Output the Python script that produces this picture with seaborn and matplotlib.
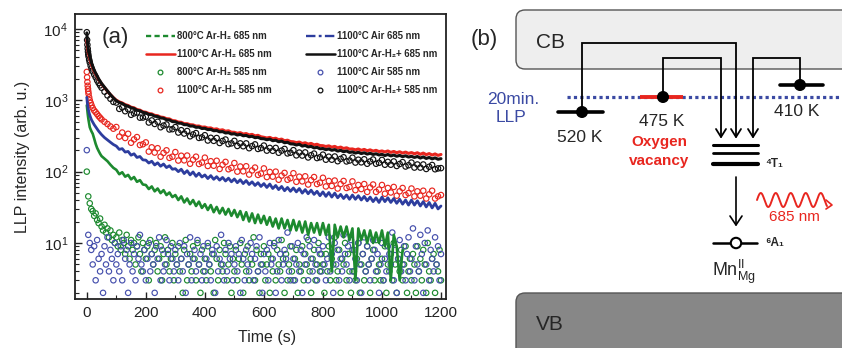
import numpy as np
import pandas as pd
import matplotlib
matplotlib.use("Agg")
import matplotlib.pyplot as plt
import seaborn as sns
from matplotlib.lines import Line2D
from matplotlib.patches import FancyBboxPatch, Circle
from matplotlib.ticker import MultipleLocator, LogLocator, NullFormatter

# ---------------- data ----------------
T_EARLY = [0, 1, 2, 3, 4, 5, 6, 8, 10, 13, 16, 20, 25, 30, 35, 40, 45, 50, 60, 70, 80, 90]
TIME = T_EARLY + list(range(100, 1201, 10))
TIME_NOISE = list(range(0, 1201, 5))

# 1100C Ar-H2+ 685 nm (black line)
BLACK_685 = [8800, 7600, 6700, 6000, 5500, 5100, 4800, 4400, 4100, 3700, 3350, 3000, 2650, 2400, 2200, 2000, 1850, 1720, 1520, 1350, 1200, 1080,
             985, 930, 902, 850, 826, 785, 768, 725, 712, 676,
             665, 634, 628, 598, 592, 565, 560, 533, 530, 503,
             500, 478, 476, 455, 455, 435, 436, 418, 420, 402,
             405, 388, 391, 374, 377, 361, 364, 348, 352, 336,
             340, 326, 333, 318, 322, 308, 313, 299, 303, 290,
             289, 280, 286, 271, 276, 262, 268, 254, 258, 245,
             244, 236, 242, 228, 233, 222, 226, 215, 219, 209,
             211, 203, 208, 199, 204, 194, 199, 190, 195, 186,
             189, 182, 187, 179, 184, 176, 181, 174, 178, 171,
             175, 168, 174, 166, 171, 164, 169, 162, 167, 160,
             164, 158, 163, 155, 161, 153, 158, 151, 156, 149,
             152]
# 1100C Ar-H2+ 585 nm (black circles)
BLACK_585 = [9000, 7000, 6000, 5300, 4800, 4400, 4100, 3700, 3400, 3050, 2800, 2550, 2300, 2100, 1900, 1750, 1620, 1500, 1320, 1170, 1050, 950,
             929, 758, 798, 703, 750, 626, 655, 674, 571, 573,
             589, 488, 522, 466, 500, 419, 442, 458, 390, 394,
             421, 353, 381, 342, 371, 313, 332, 347, 297, 302,
             324, 273, 298, 270, 296, 252, 269, 282, 243, 249,
             270, 229, 249, 227, 249, 213, 228, 241, 208, 214,
             232, 197, 215, 196, 215, 184, 197, 208, 180, 184,
             200, 169, 185, 168, 186, 158, 170, 179, 155, 159,
             173, 147, 162, 147, 163, 140, 151, 159, 139, 143,
             157, 134, 147, 135, 149, 129, 139, 148, 129, 133,
             146, 125, 137, 125, 139, 120, 128, 136, 118, 123,
             134, 114, 126, 114, 126, 109, 117, 124, 108, 111,
             112]
# 1100C Ar-H2 685 nm (red line)
RED_685 = [7000, 6300, 5700, 5300, 4900, 4600, 4400, 4100, 3800, 3450, 3150, 2850, 2550, 2320, 2130, 1960, 1820, 1700, 1500, 1340, 1200, 1090,
           1000, 950, 918, 870, 845, 800, 785, 742, 728, 690,
           680, 652, 645, 615, 608, 582, 575, 552, 548, 520,
           515, 495, 492, 470, 470, 455, 452, 435, 436, 420,
           422, 408, 410, 392, 398, 380, 386, 368, 374, 357,
           356, 345, 352, 336, 342, 327, 333, 317, 323, 308,
           303, 296, 302, 289, 294, 280, 286, 271, 276, 264,
           262, 255, 260, 248, 254, 243, 249, 237, 242, 232,
           231, 225, 230, 220, 226, 215, 221, 211, 216, 207,
           208, 202, 208, 199, 205, 196, 202, 194, 199, 191,
           195, 189, 195, 186, 192, 184, 190, 182, 188, 180,
           185, 178, 184, 175, 182, 173, 179, 171, 177, 169,
           174]
# 1100C Ar-H2 585 nm (red circles)
RED_585 = [2500, 2100, 1800, 1600, 1450, 1330, 1230, 1100, 1000, 920, 850, 780, 720, 680, 640, 600, 570, 540, 500, 465, 430, 400,
           422, 310, 353, 296, 339, 254, 283, 305, 236, 242,
           257, 191, 219, 185, 213, 162, 183, 199, 156, 162,
           188, 143, 167, 144, 168, 129, 147, 162, 128, 134,
           157, 120, 140, 121, 142, 109, 125, 137, 108, 113,
           132, 100, 118, 101, 119, 91, 104, 114, 90, 94,
           111, 84, 99, 85, 100, 77, 88, 96, 77, 81,
           95, 72, 85, 73, 86, 66, 76, 84, 67, 70,
           82, 62, 74, 63, 75, 58, 67, 74, 59, 61,
           73, 55, 65, 57, 67, 52, 60, 66, 52, 56,
           65, 49, 59, 51, 61, 46, 53, 59, 47, 50,
           58, 45, 53, 46, 54, 42, 48, 54, 42, 45,
           47]
# 1100C Air 685 nm (blue dash-dot line)
BLUE_685 = [1100, 980, 900, 840, 790, 750, 715, 660, 620, 570, 530, 495, 455, 425, 395, 370, 350, 330, 300, 278, 258, 240,
            228, 205, 210, 188, 192, 170, 178, 158, 163, 146,
            145, 132, 140, 124, 133, 119, 128, 114, 121, 108,
            110, 100, 108, 94, 103, 90, 99, 86, 95, 84,
            90, 80, 88, 78, 85, 76, 83, 74, 81, 72,
            79, 70, 77, 68, 75, 66, 72, 64, 70, 62,
            68, 60, 67, 58, 64, 56, 62, 54, 60, 53,
            59, 52, 58, 50, 56, 49, 55, 48, 53, 46,
            52, 45, 51, 44, 50, 43, 48, 42, 47, 41,
            47, 41, 46, 40, 45, 39, 44, 38, 43, 37,
            44, 38, 43, 37, 42, 36, 41, 35, 40, 34,
            40, 34, 39, 33, 38, 32, 37, 31, 36, 30,
            33]
# 800C Ar-H2 685 nm (green dashed line, ends near 1070 s)
GREEN_685 = [850, 780, 710, 650, 600, 560, 525, 470, 420, 390, 365, 340, 290, 245, 215, 195, 178, 165, 152, 140, 125, 113,
             106, 92, 98, 85, 90, 78, 84, 72, 76, 66,
             65, 57, 62, 53, 58, 50, 55, 47, 51, 44,
             47, 40, 45, 37, 42, 35, 40, 33, 38, 31,
             35, 29, 34, 27, 32, 26, 31, 25, 30, 24,
             29, 23, 28, 21, 27, 20, 26, 19, 25, 19,
             24, 18, 23, 17, 22, 16, 22, 16, 21, 15,
             21, 15, 20, 14, 20, 13, 19, 14, 19, 13,
             19, 13, 18, 4, 18, 12, 17, 12, 17, 11,
             16, 3, 16, 11, 15, 10, 15, 10, 14, 10,
             15, 9, 14, 3, 13, 9, 3, 8]
# 1100C Air 585 nm (blue circles, counting noise)
BLUE_585 = [200, 13, 10, 8, 5, 9, 3, 11, 6, 4, 7, 2, 9, 5, 12, 4, 8, 6, 3, 10,
            5, 7, 4, 9, 3, 11, 6, 8, 2, 5, 10, 4, 7, 3, 9, 6, 13, 5, 4, 8,
            3, 6, 10, 4, 7, 5, 2, 9, 6, 12, 3, 8, 4, 5, 11, 7, 3, 9, 6, 4,
            8, 5, 3, 10, 6, 4, 9, 2, 7, 5, 12, 3, 6, 8, 4, 11, 5, 7, 3, 9,
            4, 6, 10, 5, 3, 8, 7, 2, 9, 4, 6, 13, 5, 3, 8, 4, 10, 6, 7, 3,
            5, 9, 4, 7, 2, 11, 6, 3, 8, 5, 4, 10, 7, 3, 6, 9, 4, 12, 5, 2,
            7, 4, 8, 3, 10, 5, 6, 9, 2, 4, 11, 7, 3, 5, 8, 6, 14, 4, 3, 9,
            6, 3, 5, 10, 4, 8, 2, 7, 5, 12, 3, 9, 6, 4, 11, 5, 3, 8, 7, 4,
            9, 5, 3, 6, 12, 4, 7, 2, 10, 5, 8, 3, 6, 4, 13, 7, 5, 9, 3, 11,
            4, 8, 6, 3, 10, 5, 2, 7, 12, 4, 9, 5, 3, 6, 11, 8, 4, 7, 2, 5,
            10, 3, 6, 4, 9, 7, 5, 14, 3, 8, 2, 6, 11, 4, 5, 9, 3, 7, 12, 4,
            6, 16, 3, 9, 5, 4, 13, 7, 2, 10, 5, 15, 3, 8, 6, 4, 12, 5, 9, 3,
            7]
# 800C Ar-H2 585 nm (green circles)
GREEN_585 = [100, 45, 36, 30, 28, 24, 26, 21, 19, 22, 17, 15, 18, 14, 16, 12, 15, 11, 13, 10,
             12, 9, 14, 8, 11, 10, 7, 13, 9, 6, 11, 8, 10, 5, 9, 12, 7, 4, 10, 8,
             6, 9, 3, 11, 7, 5, 8, 10, 4, 6, 9, 3, 7, 12, 5, 8, 4, 6, 10, 3,
             7, 5, 9, 4, 6, 2, 8, 11, 3, 5, 7, 4, 9, 6, 3, 10, 5, 2, 8, 4,
             6, 3, 9, 5, 4, 7, 2, 11, 6, 3, 8, 5, 4, 10, 7, 3, 5, 9, 2, 6,
             4, 8, 3, 6, 10, 5, 2, 7, 4, 9, 3, 6, 5, 12, 3, 8, 4, 2, 7, 5,
             9, 3, 5, 7, 2, 6, 4, 10, 3, 8, 5, 4, 11, 6, 2, 7, 3, 5, 9, 4,
             3, 6, 8, 2, 5, 4, 9, 3, 7, 5, 11, 4, 2, 6, 8, 3, 5, 10, 4, 7,
             5, 2, 7, 4, 9, 3, 6, 5, 12, 3, 4, 8, 2, 6, 5, 10, 3, 7, 4, 2,
             8, 4, 3, 6, 10, 2, 5, 7, 3, 4, 9, 5, 2, 6, 8, 3, 11, 4, 5, 3,
             6, 3, 9, 2, 5, 4, 7, 3, 10, 5, 2, 6, 4, 8, 3, 5, 9, 2, 4, 6,
             3, 7, 5, 2, 9, 4, 6, 3, 8, 5, 2, 10, 4, 3, 6, 7, 2, 5, 4, 8,
             3]

LABELS = ["800°C Ar-H₂ 685 nm", "1100°C Ar-H₂ 685 nm", "800°C Ar-H₂ 585 nm", "1100°C Ar-H₂ 585 nm",
          "1100°C Air 685 nm", "1100°C Ar-H₂+ 685 nm", "1100°C Air 585 nm", "1100°C Ar-H₂+ 585 nm"]
XTICKS = [0, 200, 400, 600, 800, 1000, 1200]

for name, arr, tt in [("BLACK_685", BLACK_685, TIME), ("BLACK_585", BLACK_585, TIME), ("RED_685", RED_685, TIME),
                      ("RED_585", RED_585, TIME), ("BLUE_685", BLUE_685, TIME), ("BLUE_585", BLUE_585, TIME_NOISE),
                      ("GREEN_585", GREEN_585, TIME_NOISE)]:
    assert len(arr) == len(tt), (name, len(arr), len(tt))

# ---------------- styling ----------------
sns.set_theme(style="ticks")
FONTS = ["Liberation Sans", "DejaVu Sans"]
plt.rcParams["font.family"] = FONTS
plt.rcParams["mathtext.fontset"] = "custom"
plt.rcParams["mathtext.rm"] = "Liberation Sans"
plt.rcParams["mathtext.it"] = "Liberation Sans:italic"
plt.rcParams["mathtext.bf"] = "Liberation Sans:bold"

GREEN = "#1d8a2f"
RED = "#e8261f"
BLUE = "#2d3d9e"
BLUE_C = "#4650ad"
BLACK = "#111111"
W, H = 842, 348

fig = plt.figure(figsize=(W / 100, H / 100), dpi=100)
ax = fig.add_axes([75 / W, 1 - 299 / H, 371 / W, 285 / H])

sc_kw = dict(marker="o", s=15, facecolors="none", linewidth=0.85)
sns.scatterplot(x=TIME_NOISE, y=GREEN_585, ax=ax, color=GREEN, edgecolor=GREEN, zorder=2, **sc_kw)
sns.scatterplot(x=TIME_NOISE, y=BLUE_585, ax=ax, color=BLUE_C, edgecolor=BLUE_C, zorder=3, **sc_kw)
sns.lineplot(x=TIME[:len(GREEN_685)], y=GREEN_685, ax=ax, color=GREEN, lw=1.9, linestyle="-", zorder=4, errorbar=None)
sns.scatterplot(x=TIME, y=RED_585, ax=ax, color=RED, edgecolor=RED, zorder=4, **sc_kw)
sns.lineplot(x=TIME, y=BLUE_685, ax=ax, color=BLUE, lw=2.0, linestyle="-", zorder=5, errorbar=None)
sns.scatterplot(x=TIME, y=BLACK_585, ax=ax, color=BLACK, edgecolor=BLACK, zorder=5, **sc_kw)
sns.lineplot(x=TIME, y=RED_685, ax=ax, color=RED, lw=2.2, zorder=6, errorbar=None)
sns.lineplot(x=TIME, y=BLACK_685, ax=ax, color=BLACK, lw=2.2, zorder=7, errorbar=None)

ax.set_yscale("log")
ax.set_xlim(-40, 1217)
ax.set_ylim(1.64, 16200)
ax.set_xticks(XTICKS)
ax.set_xticklabels([str(v) for v in XTICKS])
ax.xaxis.set_minor_locator(MultipleLocator(100))
ax.yaxis.set_major_locator(LogLocator(base=10, numticks=10))
ax.yaxis.set_minor_locator(LogLocator(base=10, subs=np.arange(2, 10), numticks=20))
ax.yaxis.set_minor_formatter(NullFormatter())
ax.tick_params(which="both", direction="in", top=False, right=False, colors="#222222")
ax.tick_params(which="major", length=5, width=1.0, labelsize=11, pad=5)
ax.tick_params(which="minor", length=3, width=0.8)
for s in ax.spines.values():
    s.set_linewidth(1.3)
    s.set_color("#222222")
ax.set_xlabel("Time (s)", fontsize=11.5)
ax.set_ylabel("LLP intensity (arb. u.)", fontsize=11.5)
ax.xaxis.set_label_coords(0.517, -0.11)
ax.yaxis.set_label_coords(-0.12, 0.5)

handles = [
    Line2D([], [], color=GREEN, lw=1.7, linestyle=(0, (2.2, 1.4))),
    Line2D([], [], color=RED, lw=1.8),
    Line2D([], [], ls="none", marker="o", ms=3.4, mfc="none", mec=GREEN, mew=0.9),
    Line2D([], [], ls="none", marker="o", ms=3.4, mfc="none", mec=RED, mew=0.9),
    Line2D([], [], color=BLUE, lw=1.7, linestyle=(0, (4, 1.4, 1.2, 1.4))),
    Line2D([], [], color=BLACK, lw=1.8),
    Line2D([], [], ls="none", marker="o", ms=3.4, mfc="none", mec=BLUE_C, mew=0.9),
    Line2D([], [], ls="none", marker="o", ms=3.4, mfc="none", mec=BLACK, mew=0.9),
]
leg = ax.legend(handles, LABELS, ncol=2, loc="upper left", bbox_to_anchor=(146 / W, 1 - 31 / H),
                bbox_transform=fig.transFigure, frameon=False, prop=dict(family=FONTS, weight="bold", size=6.9),
                handlelength=3.0, handletextpad=0.2, columnspacing=3.6, labelspacing=0.85,
                borderpad=0, borderaxespad=0)
fig.text(115 / W, 1 - 38 / H, "(a)", fontsize=16, ha="center", va="center")

# ---------------- panel (b): energy-level scheme ----------------
bx = fig.add_axes([450 / W, 0, 392 / W, 1])
bx.set_xlim(450, 842)
bx.set_ylim(348, 0)
bx.axis("off")

bx.add_patch(FancyBboxPatch((516, 10), 380, 59, boxstyle="round,pad=0,rounding_size=9",
                            fc="#eeeeee", ec="#555555", lw=1.0))
bx.add_patch(FancyBboxPatch((516, 293), 380, 90, boxstyle="round,pad=0,rounding_size=9",
                            fc="#878787", ec="#555555", lw=1.0))
bx.text(484, 40, "(b)", fontsize=16, ha="center", va="center")
bx.text(536, 43, "CB", fontsize=15, ha="left", va="center")
bx.text(536, 325, "VB", fontsize=15, ha="left", va="center")

LLP_BLUE = "#3b4aa3"
bx.plot([567, 842], [97, 97], color=LLP_BLUE, lw=2.3, ls=(0, (1, 1.0)), zorder=2)
bx.text(513, 100, "20min.", fontsize=12.5, color=LLP_BLUE, ha="center", va="center")
bx.text(511, 118, "LLP", fontsize=12.5, color=LLP_BLUE, ha="center", va="center")

# trap levels
bx.plot([558, 603], [112, 112], color="black", lw=2.6, zorder=3)
bx.plot([640, 683], [97, 97], color=RED, lw=2.8, zorder=3, solid_capstyle="butt")
bx.plot([780, 823], [85, 85], color="black", lw=2.6, zorder=3)
for (cx, cy) in [(582, 112), (663, 97), (800, 85)]:
    bx.add_patch(Circle((cx, cy), 5.3, fc="black", ec="black", zorder=4))

# electron paths to 4T1
paths = [([582, 582, 736, 736], [112, 43, 43, 137]),
         ([663, 663, 721, 721], [97, 58, 58, 137]),
         ([800, 800, 753, 753], [85, 58, 58, 137])]
for xs, ys in paths:
    bx.plot(xs, ys, color="black", lw=1.3, zorder=3, solid_joinstyle="miter")
    tx = xs[-1]
    bx.plot([tx - 5, tx, tx + 5], [129, 137, 129], color="black", lw=1.3, zorder=3)

bx.text(580, 137, "520 K", fontsize=12.5, ha="center", va="center")
bx.text(662, 122, "475 K", fontsize=12.5, ha="center", va="center")
bx.text(797, 112, "410 K", fontsize=12.5, ha="center", va="center")
bx.text(659, 142, "Oxygen", fontsize=11, color=RED, weight="bold", ha="center", va="center")
bx.text(659, 161, "vacancy", fontsize=11, color=RED, weight="bold", ha="center", va="center")

# Mn levels
bx.plot([713, 758], [144.5, 144.5], color="black", lw=2.2)
bx.plot([713, 758], [152.5, 152.5], color="black", lw=2.0)
bx.plot([713, 758], [164, 164], color="black", lw=3.0)
bx.text(765, 164, "⁴T₁", fontsize=8.5, weight="bold", ha="left", va="center", family=FONTS)
bx.plot([736, 736], [177, 225], color="black", lw=1.2)
bx.plot([730, 736, 742], [216, 225, 216], color="black", lw=1.2)
bx.plot([713, 757], [243, 243], color="black", lw=1.8, zorder=3)
bx.add_patch(Circle((736, 243), 5.2, fc="white", ec="black", lw=1.5, zorder=4))
bx.text(765, 243, "⁶A₁", fontsize=8.5, weight="bold", ha="left", va="center", family=FONTS)
bx.text(712, 272, r"Mn$^{\rm II}_{\rm Mg}$", fontsize=13, ha="left", va="center")

# emitted photon (decorative wavy arrow)
wx = np.linspace(757, 827, 300)
wy = 200 - 7 * np.sin(2 * np.pi * (wx - 757) / 15.0)
bx.plot(wx, wy, color=RED, lw=1.4)
bx.plot([826, 832, 826], [200, 205, 209], color=RED, lw=1.2)
bx.text(794, 217, "685 nm", fontsize=11, color=RED, ha="center", va="center")

fig.savefig("out.png", dpi=100)
